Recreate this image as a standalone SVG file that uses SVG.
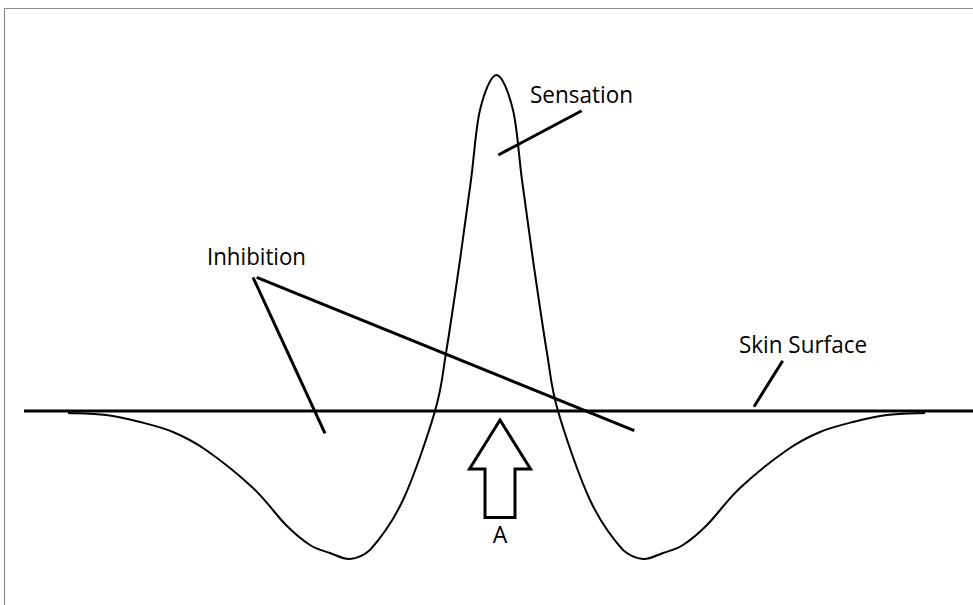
<svg xmlns="http://www.w3.org/2000/svg" width="973" height="605" viewBox="0 0 973 605">
<style>
.lbl{font-family:"Open Sans","Noto Sans","Liberation Sans",sans-serif;font-size:23px;fill:#000}
.ptr{stroke:#000;stroke-width:3;fill:none;stroke-linecap:butt}
.curve{stroke:#000;stroke-width:2;fill:none}
.frame{stroke:#8c8c8c;stroke-width:1.2;fill:none}
</style>
<rect x="0" y="0" width="973" height="605" fill="#fff"/>
<g id="frame">
<path class="frame" d="M4.5,605 V8.5 H973"/>
</g>
<g id="skin-surface">
<line x1="24" y1="411" x2="973" y2="411" stroke="#000" stroke-width="3"/>
</g>
<g id="response-curve">
<path class="curve" d="M68,413 C74.33,413.33 94,413.5 106,415 C118,416.5 128.83,419.17 140,422 C151.17,424.83 162,427.33 173,432 C184,436.67 192.67,440.67 206,450 C219.33,459.33 239.67,475.5 253,488 C266.33,500.5 276.5,515.5 286,525 C295.5,534.5 302.67,540.33 310,545 C317.33,549.67 323.33,550.67 330,553 C336.67,555.33 343.33,559.5 350,559 C356.67,558.5 362,557 370,550 C378.83,540.17 392.17,523.17 403,500 C413.83,476.83 427.83,435.5 435,411 C442.17,386.5 441.83,378.17 446,353 C450.17,327.83 455.83,288.83 460,260 C464.17,231.17 467.67,205 471,180 C474.33,155 475.75,127.5 480,110 C484.25,92.5 491,75 496.5,75 C502,75 508.75,92.5 513,110 C517.25,127.5 518.67,155 522,180 C525.33,205 528.83,231.17 533,260 C537.17,288.83 542.83,327.83 547,353 C551.17,378.17 550.83,386.5 558,411 C565.17,435.5 579.17,476.83 590,500 C600.83,523.17 614.17,540.17 623,550 C631,557 636.33,558.5 643,559 C649.67,559.5 656.33,555.33 663,553 C669.67,550.67 675.67,549.67 683,545 C690.33,540.33 697.5,534.5 707,525 C716.5,515.5 726.67,500.5 740,488 C753.33,475.5 773.67,459.33 787,450 C800.33,440.67 809,436.67 820,432 C831,427.33 841.83,424.83 853,422 C864.17,419.17 875,416.5 887,415 C899,413.5 918.67,413.33 925,413"/>
</g>
<g id="stimulus-arrow">
<polygon points="500,420 530.5,469 515,469 515,517.5 485,517.5 485,469 469.5,469" fill="#fff" stroke="#000" stroke-width="3" stroke-linejoin="miter"/>
<text class="lbl" x="500" y="543" text-anchor="middle">A</text>
</g>
<g id="label-sensation">
<text class="lbl" x="530" y="103" textLength="103" lengthAdjust="spacingAndGlyphs">Sensation</text>
</g>
<g id="label-inhibition">
<text class="lbl" x="207" y="265" textLength="99" lengthAdjust="spacingAndGlyphs">Inhibition</text>
</g>
<g id="label-skin-surface">
<text class="lbl" x="739" y="353" textLength="128" lengthAdjust="spacingAndGlyphs">Skin Surface</text>
</g>
<g id="connectors">
<line class="ptr" x1="581.7" y1="110.7" x2="498.3" y2="155"/>
<line class="ptr" x1="253" y1="277.3" x2="325" y2="433.3"/>
<line class="ptr" x1="256.7" y1="277.3" x2="634.3" y2="430.7"/>
<line class="ptr" x1="782.7" y1="360.7" x2="754" y2="406.7"/>
</g>
</svg>
